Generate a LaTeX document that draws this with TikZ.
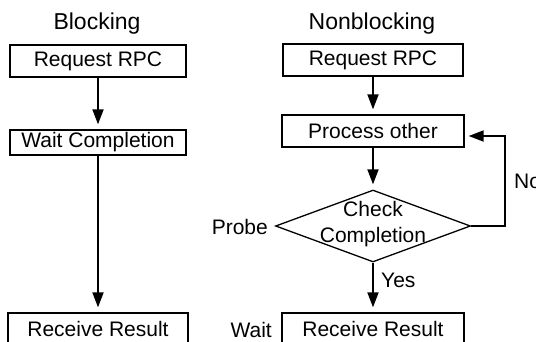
\documentclass[tikz,border=0pt]{standalone}
\usepackage{fontspec}
\setmainfont{Liberation Sans}
\usetikzlibrary{arrows.meta,shapes.geometric}
\begin{document}
\begin{tikzpicture}[x=1pt,y=-1pt,
  box/.style={draw, line width=1.3pt, inner sep=0pt, minimum height=32pt, font=\fontsize{21}{26}\selectfont},
  arr/.style={line width=1.8pt, -{Triangle[length=15pt,width=11pt]}, shorten >=5pt},
  lbl/.style={font=\fontsize{21}{26}\selectfont, inner sep=0pt},
  ttl/.style={font=\fontsize{23}{28}\selectfont, inner sep=0pt}]
\useasboundingbox (0,0) rectangle (536,341);
\clip (0,0) rectangle (536,341);
% Blocking column
\node[ttl] (t1) at (97,24) {Blocking};
\node[box, minimum width=176pt] (b1) at (98,61) {Request RPC};
\node[box, minimum width=176pt, minimum height=25pt] (b2) at (98,142.5) {Wait Completion};
\node[box, minimum width=180pt] (b3) at (98,329) {Receive Result};
\draw[arr] (b1) -- (b2);
\draw[arr] (b2) -- (b3);
% Nonblocking column
\node[ttl] (t2) at (372,24) {Nonblocking};
\node[box, minimum width=180pt] (r1) at (373,60) {Request RPC};
\node[box, minimum width=182pt] (r2) at (373,131) {Process other};
\node[diamond, draw, line width=1.3pt, inner sep=0pt, minimum width=195pt, minimum height=72pt] (d) at (373,226) {};
\node[lbl, align=center] (dt) at (373,224) {Check\\Completion};
\node[box, minimum width=182pt] (r3) at (373,329) {Receive Result};
\draw[arr] (r1) -- (r2);
\draw[arr] (r2) -- (d);
\draw[arr] (d) -- (r3);
\coordinate (fb) at (505,136);
\draw[arr, shorten >=4pt] (d.east) -| (fb) -- ([yshift=-5pt]r2.east);
% labels
\node[lbl, anchor=east] (probe) at (268,227) {Probe};
\node[lbl, anchor=east] (wait) at (272,330) {Wait};
\node[lbl, anchor=west] (yes) at (381,280) {Yes};
\node[lbl, anchor=west] (no) at (514,181) {No};
\end{tikzpicture}
\end{document}
